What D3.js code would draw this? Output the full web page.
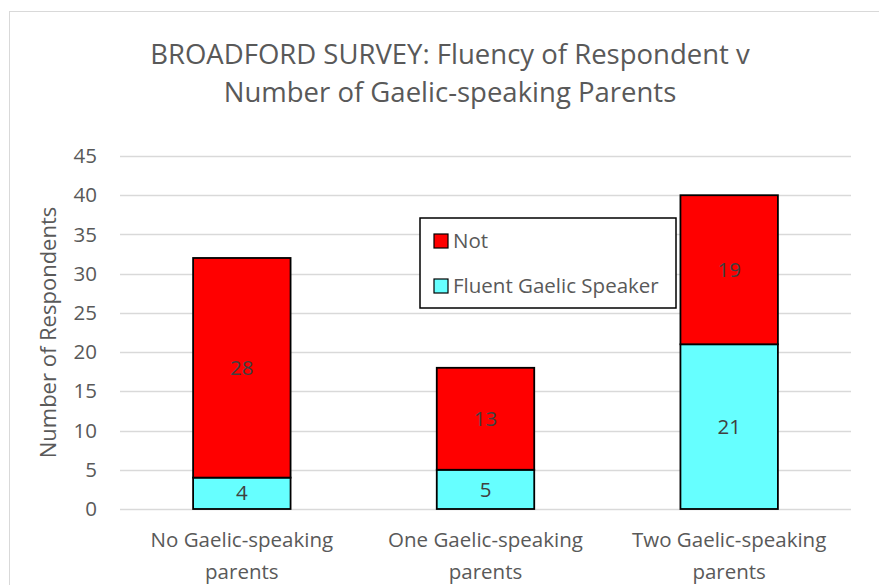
<!DOCTYPE html>
<html>
<head>
<meta charset="utf-8">
<script src="https://cdn.jsdelivr.net/npm/d3@7"></script>
<style>
  body { margin: 0; background: #fff; }
  text { font-family: "Open Sans", Lato, sans-serif; fill: #595959; }
</style>
</head>
<body>
<script>
// data
var categories = [['No Gaelic-speaking', 'parents'], ['One Gaelic-speaking', 'parents'], ['Two Gaelic-speaking', 'parents']];
var fluent = [4, 5, 21];
var notFluent = [28, 13, 19];
var seriesNames = ['Fluent Gaelic Speaker', 'Not'];
var seriesColors = ['#66ffff', '#ff0000'];
var yTicks = [0, 5, 10, 15, 20, 25, 30, 35, 40, 45];

var width = 879, height = 585;
var margin = {left: 120, right: 28, top: 156, bottom: 76};

var svg = d3.select('body').append('svg')
    .attr('width', width)
    .attr('height', height);

// chart border
svg.append('rect')
    .attr('x', 9.5).attr('y', 11.5)
    .attr('width', 900).attr('height', 600)
    .attr('fill', '#fff')
    .attr('stroke', '#d9d9d9');

// title
var title = svg.append('text')
    .attr('text-anchor', 'middle')
    .style('font-size', '27.5px');
title.append('tspan').attr('x', 450).attr('y', 64).text('BROADFORD SURVEY: Fluency of Respondent v');
title.append('tspan').attr('x', 450).attr('y', 102).text('Number of Gaelic-speaking Parents');

var x = d3.scaleBand()
    .domain(d3.range(categories.length))
    .range([margin.left, width - margin.right])
    .paddingInner(0.6)
    .paddingOuter(0.3);

var y = d3.scaleLinear()
    .domain([0, 45])
    .range([height - margin.bottom, margin.top]);

// gridlines
svg.append('g')
  .selectAll('line')
  .data(yTicks)
  .enter()
  .append('line')
    .attr('x1', margin.left)
    .attr('x2', width - margin.right)
    .attr('y1', function(d) { return Math.round(y(d)) + 0.5; })
    .attr('y2', function(d) { return Math.round(y(d)) + 0.5; })
    .attr('stroke', '#d9d9d9')
    .attr('stroke-width', 1.3);

// y axis labels
var yAxis = svg.append('g')
    .attr('transform', 'translate(' + (margin.left - 23) + ',0)')
    .call(d3.axisLeft(y).tickValues(yTicks).tickSize(0).tickPadding(0));
yAxis.select('.domain').remove();
yAxis.selectAll('text')
    .style('font-size', '20.5px')
    .style('font-family', '"Open Sans", Lato, sans-serif')
    .attr('fill', '#595959');

svg.append('text')
    .attr('transform', 'translate(56,' + (y(22.5)) + ') rotate(-90)')
    .attr('text-anchor', 'middle')
    .style('font-size', '22px')
    .text('Number of Respondents');

// stacked bars
var rows = categories.map(function(c, i) { return {i: i, fluent: fluent[i], not: notFluent[i]}; });
var stack = d3.stack().keys(['fluent', 'not'])(rows);

var layers = svg.append('g')
  .selectAll('g')
  .data(stack)
  .enter()
  .append('g')
    .attr('fill', function(d, i) { return seriesColors[i]; });

layers.selectAll('rect')
  .data(function(d) { return d; })
  .enter()
  .append('rect')
    .attr('x', function(d) { return x(d.data.i); })
    .attr('y', function(d) { return y(d[1]); })
    .attr('width', x.bandwidth())
    .attr('height', function(d) { return y(d[0]) - y(d[1]); })
    .attr('stroke', '#000')
    .attr('stroke-width', 1.8);

// data labels
layers.selectAll('text')
  .data(function(d) { return d; })
  .enter()
  .append('text')
    .attr('x', function(d) { return x(d.data.i) + x.bandwidth() / 2; })
    .attr('y', function(d) { return (y(d[0]) + y(d[1])) / 2; })
    .attr('dy', '0.35em')
    .attr('text-anchor', 'middle')
    .style('font-size', '20.5px')
    .style('fill', '#404040')
    .text(function(d) { return d[1] - d[0]; });

// category labels
var cat = svg.append('g')
  .selectAll('text')
  .data(categories)
  .enter()
  .append('text')
    .attr('text-anchor', 'middle')
    .style('font-size', '20.5px');
cat.selectAll('tspan')
  .data(function(d, i) { return d.map(function(t) { return {t: t, i: i}; }); })
  .enter()
  .append('tspan')
    .attr('x', function(d) { return x(d.i) + x.bandwidth() / 2; })
    .attr('y', function(d, j) { return 547 + j * 32; })
    .text(function(d) { return d.t; });

// legend
var legend = svg.append('g').attr('transform', 'translate(420,218)');
legend.append('rect')
    .attr('width', 256).attr('height', 90)
    .attr('fill', '#fff')
    .attr('stroke', '#000')
    .attr('stroke-width', 1.5);

var legendItems = [{name: seriesNames[1], color: seriesColors[1]}, {name: seriesNames[0], color: seriesColors[0]}];
var li = legend.selectAll('.item')
  .data(legendItems)
  .enter()
  .append('g')
    .attr('class', 'item')
    .attr('transform', function(d, i) { return 'translate(14,' + (23 + i * 45) + ')'; });
li.append('rect')
    .attr('x', 0).attr('y', -7)
    .attr('width', 14).attr('height', 14)
    .attr('fill', function(d) { return d.color; })
    .attr('stroke', '#000')
    .attr('stroke-width', 1.2);
li.append('text')
    .attr('x', 19)
    .attr('dy', '0.35em')
    .style('font-size', '20.5px')
    .text(function(d) { return d.name; });
</script>
</body>
</html>
